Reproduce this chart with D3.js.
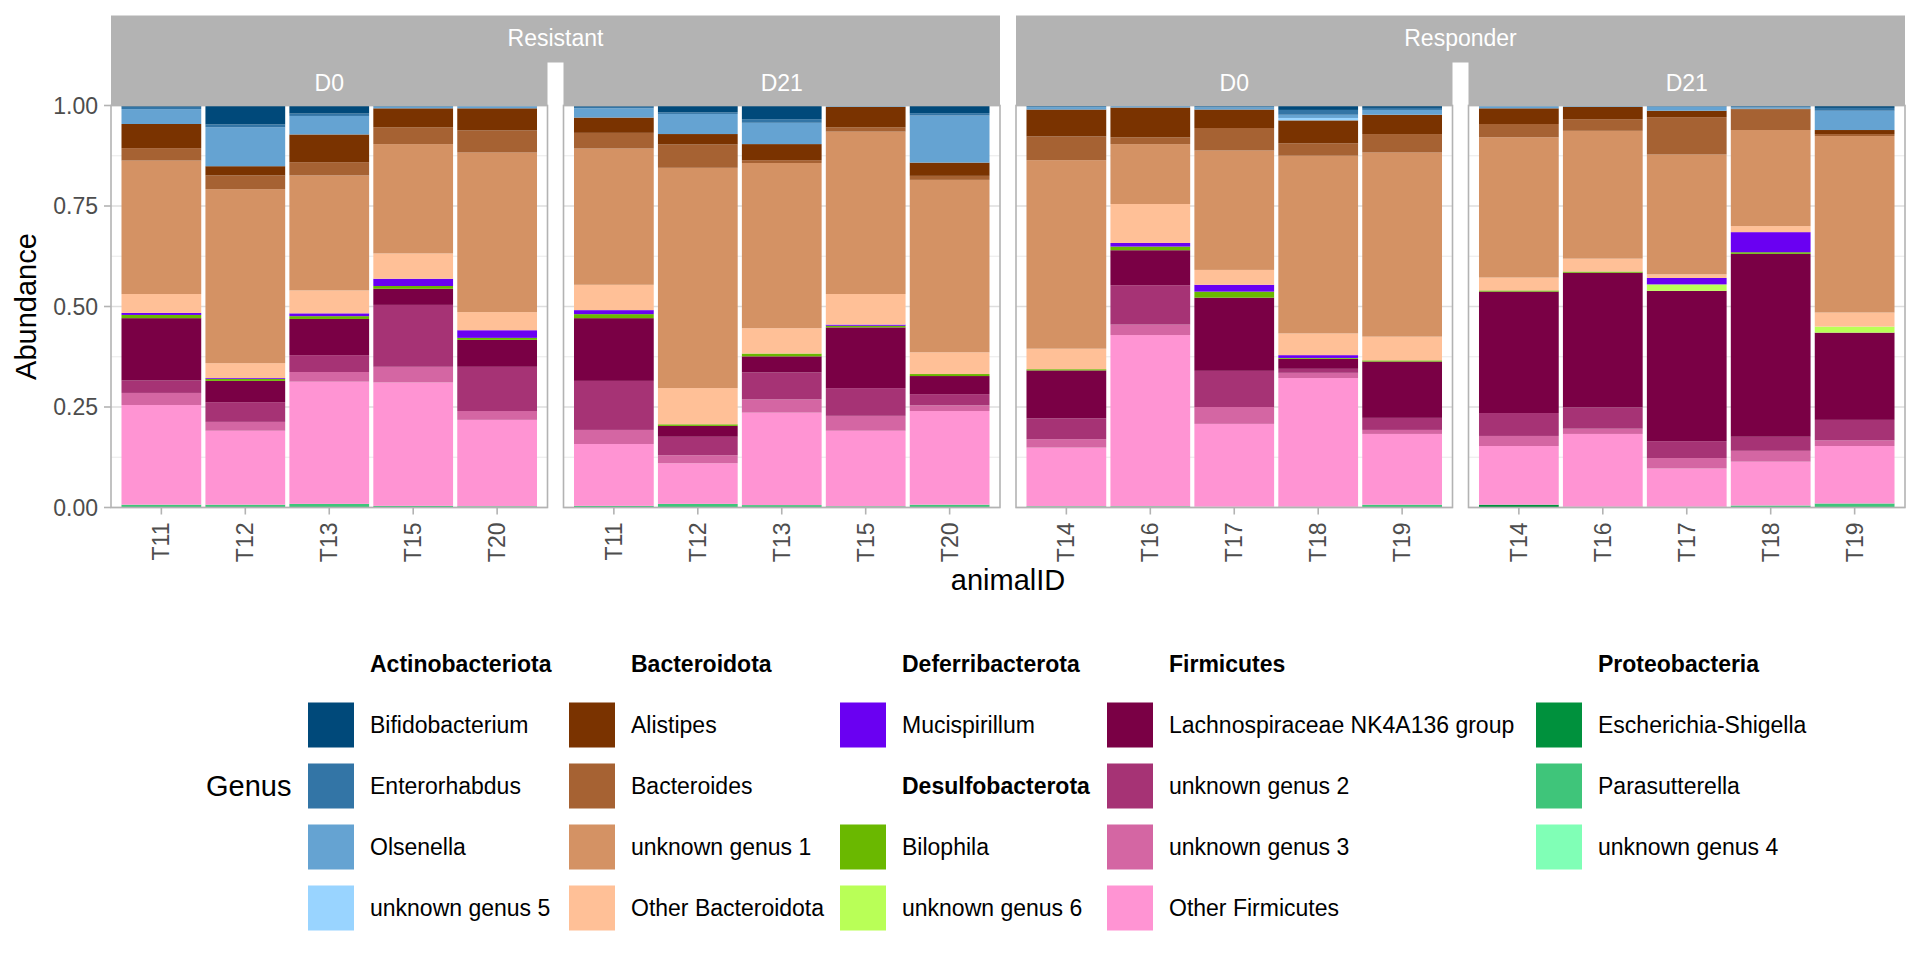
<!DOCTYPE html>
<html>
<head>
<meta charset="UTF-8">
<title>Abundance</title>
<script src="https://cdn.jsdelivr.net/npm/d3@7"></script>
<style>
body { margin: 0; background: #fff; }
svg text { font-family: "Liberation Sans", Arial, Helvetica, sans-serif; }
</style>
</head>
<body>
<div id="chart"></div>
<script>
// genus order = legend order (first one sits on top of each bar)
var genera = ["Bifidobacterium", "Enterorhabdus", "Olsenella", "unknown genus 5",
  "Alistipes", "Bacteroides", "unknown genus 1", "Other Bacteroidota",
  "Mucispirillum", "Bilophila", "unknown genus 6",
  "Lachnospiraceae NK4A136 group", "unknown genus 2", "unknown genus 3", "Other Firmicutes",
  "Escherichia-Shigella", "Parasutterella", "unknown genus 4"];
var genusColors = ["#00497a", "#3375a6", "#65a3d2", "#99d4ff",
  "#7a3300", "#a66233", "#d49264", "#ffc097",
  "#6a00f2", "#6ab800", "#b9ff57",
  "#7a0045", "#a63375", "#d466a3", "#ff94d3",
  "#00913d", "#3fc57a", "#80ffb6"];
var genusPhylum = ["Actinobacteriota", "Actinobacteriota", "Actinobacteriota", "Actinobacteriota",
  "Bacteroidota", "Bacteroidota", "Bacteroidota", "Bacteroidota",
  "Deferribacterota", "Desulfobacterota", "Desulfobacterota",
  "Firmicutes", "Firmicutes", "Firmicutes", "Firmicutes",
  "Proteobacteria", "Proteobacteria", "Proteobacteria"];
var legendColumns = [["Actinobacteriota"], ["Bacteroidota"], ["Deferribacterota", "Desulfobacterota"],
  ["Firmicutes"], ["Proteobacteria"]];

var groups = ["Resistant", "Responder"];
var days = ["D0", "D21"];
var resistantIDs = ["T11", "T12", "T13", "T15", "T20"];
var responderIDs = ["T14", "T16", "T17", "T18", "T19"];

// one row per bar (Resistant D0, Resistant D21, Responder D0, Responder D21), columns follow genera
var abundance = [
  [.003, .006, .037, 0, .060, .031, .332, .047, .005, .008, 0, .155, .031, .030, .248, 0, .007, 0],
  [.047, .007, .097, 0, .023, .034, .433, .037, .002, .005, 0, .053, .049, .022, .184, 0, .007, 0],
  [.020, .006, .046, 0, .069, .033, .286, .057, .007, .007, 0, .090, .042, .024, .304, 0, .009, 0],
  [0, .003, .004, 0, .047, .042, .272, .063, .018, .007, 0, .040, .154, .039, .307, 0, .004, 0],
  [0, .002, .005, 0, .055, .055, .397, .045, .019, .005, 0, .067, .110, .022, .215, 0, .003, 0],
  [.003, .004, .023, 0, .038, .039, .339, .063, .010, .010, 0, .156, .122, .035, .154, 0, .004, 0],
  [.017, .004, .050, 0, .026, .058, .548, .090, 0, .004, 0, .027, .046, .020, .101, 0, .009, 0],
  [.034, .009, .053, 0, .040, .007, .411, .063, 0, .007, 0, .040, .067, .033, .230, 0, .006, 0],
  [0, 0, .003, 0, .051, .011, .404, .076, .003, .004, 0, .151, .069, .037, .188, 0, .003, 0],
  [.019, .006, .117, 0, .033, .010, .429, .054, 0, .005, 0, .045, .028, .014, .233, 0, .007, 0],
  [0, .004, .006, 0, .067, .059, .469, .051, 0, .003, 0, .119, .052, .021, .146, 0, .003, 0],
  [0, 0, .005, 0, .074, .017, .149, .097, .009, .009, 0, .087, .098, .026, .426, 0, .003, 0],
  [0, .005, .005, 0, .046, .056, .297, .037, .017, .015, 0, .182, .090, .042, .206, 0, 0, .002],
  [.011, .012, .008, .006, .057, .031, .442, .054, .007, .002, 0, .025, .010, .013, .320, 0, .002, 0],
  [.006, .005, .012, 0, .048, .046, .458, .059, 0, .003, 0, .140, .030, .010, .176, 0, .007, 0],
  [0, .002, .005, 0, .039, .033, .349, .032, 0, .003, 0, .302, .057, .025, .146, .007, 0, 0],
  [0, 0, .003, 0, .031, .029, .318, .032, 0, .003, 0, .335, .053, .013, .181, 0, .002, 0],
  [0, .003, .010, 0, .016, .093, .298, .009, .016, 0, .016, .374, .042, .026, .095, 0, .002, 0],
  [0, .005, .003, 0, .002, .051, .239, .015, .050, .004, 0, .455, .035, .027, .109, 0, .005, 0],
  [.006, .007, .048, 0, .010, .005, .439, .035, 0, 0, .015, .217, .051, .014, .143, 0, .010, 0]
];
var yTicks = [0, 0.25, 0.5, 0.75, 1];
var yMinor = [0.125, 0.375, 0.625, 0.875];

var width = 1920, height = 960;
var plotLeft = 111, panelW = 436.5, panelGap = 16;
var panelTop = 105.5, panelBottom = 507.5;
var stripH = 45;

var svg = d3.select("#chart").append("svg")
  .attr("width", width)
  .attr("height", height);

var y = d3.scaleLinear().domain([0, 1]).range([panelBottom, panelTop]);
var color = d3.scaleOrdinal().domain(genera).range(genusColors);

// facets and stacked rows
var facets = [];
groups.forEach(function (g) {
  days.forEach(function (d) {
    facets.push({ group: g, day: d, ids: g == "Resistant" ? resistantIDs : responderIDs });
  });
});

var stack = d3.stack().keys(genera.slice().reverse());

// outer strips first, inner strips drawn over their lower edge
groups.forEach(function (g, gi) {
  var sx = plotLeft + gi * 2 * (panelW + panelGap);
  var sw = 2 * panelW + panelGap;
  svg.append("rect")
    .attr("x", sx).attr("y", panelTop - 2 * stripH)
    .attr("width", sw).attr("height", stripH + 2)
    .attr("fill", "#b3b3b3");
  svg.append("text")
    .attr("x", sx + sw / 2).attr("y", panelTop - 1.5 * stripH)
    .attr("dy", "0.35em")
    .attr("text-anchor", "middle")
    .attr("font-size", 23)
    .attr("fill", "#fff")
    .text(g);
});

facets.forEach(function (f, fi) {
  var x0 = plotLeft + fi * (panelW + panelGap);
  var rows = f.ids.map(function (id, i) {
    var row = { id: id };
    genera.forEach(function (gname, gi) { row[gname] = abundance[fi * 5 + i][gi]; });
    return row;
  });

  var x = d3.scaleBand().domain(f.ids).range([0, panelW])
    .paddingInner(0.05).paddingOuter(0.125);

  var panel = svg.append("g").attr("transform", "translate(" + x0 + ",0)");

  panel.append("rect")
    .attr("x", 0).attr("y", panelTop)
    .attr("width", panelW).attr("height", panelBottom - panelTop)
    .attr("fill", "#fff");

  panel.selectAll(".minor").data(yMinor).enter().append("line")
    .attr("x1", 0).attr("x2", panelW)
    .attr("y1", function (d) { return y(d); }).attr("y2", function (d) { return y(d); })
    .attr("stroke", "#e6e6e6").attr("stroke-width", 0.9);

  panel.selectAll(".major").data(yTicks).enter().append("line")
    .attr("x1", 0).attr("x2", panelW)
    .attr("y1", function (d) { return y(d); }).attr("y2", function (d) { return y(d); })
    .attr("stroke", "#dedede").attr("stroke-width", 1.6);

  var layers = panel.selectAll(".layer").data(stack(rows)).enter().append("g")
    .attr("fill", function (d) { return color(d.key); });

  layers.selectAll("rect").data(function (d) { return d; }).enter().append("rect")
    .attr("x", function (d) { return x(d.data.id); })
    .attr("width", x.bandwidth())
    .attr("y", function (d) { return y(d[1]); })
    .attr("height", function (d) { return Math.max(0, y(d[0]) - y(d[1])); });

  panel.append("rect")
    .attr("x", 0).attr("y", panelTop)
    .attr("width", panelW).attr("height", panelBottom - panelTop)
    .attr("fill", "none").attr("stroke", "#b3b3b3").attr("stroke-width", 1.6);

  // x axis
  var ticks = panel.selectAll(".xt").data(f.ids).enter().append("g")
    .attr("transform", function (d) { return "translate(" + (x(d) + x.bandwidth() / 2) + "," + panelBottom + ")"; });
  ticks.append("line").attr("y1", 0).attr("y2", 7).attr("stroke", "#b3b3b3").attr("stroke-width", 1.6);
  ticks.append("text")
    .attr("transform", "translate(0,15) rotate(-90)")
    .attr("text-anchor", "end")
    .attr("dy", "0.35em")
    .attr("font-size", 23)
    .attr("fill", "#4d4d4d")
    .text(function (d) { return d; });

  // inner strip
  panel.append("rect")
    .attr("x", 0).attr("y", panelTop - stripH)
    .attr("width", panelW).attr("height", stripH)
    .attr("fill", "#b3b3b3");
  panel.append("text")
    .attr("x", panelW / 2).attr("y", panelTop - stripH / 2)
    .attr("dy", "0.35em")
    .attr("text-anchor", "middle")
    .attr("font-size", 23)
    .attr("fill", "#fff")
    .text(f.day);

  // y axis only on the first panel
  if (fi == 0) {
    var yt = panel.selectAll(".yt").data(yTicks).enter().append("g")
      .attr("transform", function (d) { return "translate(0," + y(d) + ")"; });
    yt.append("line").attr("x1", -7).attr("x2", 0).attr("stroke", "#b3b3b3").attr("stroke-width", 1.6);
    yt.append("text")
      .attr("x", -13)
      .attr("dy", "0.35em")
      .attr("text-anchor", "end")
      .attr("font-size", 23)
      .attr("fill", "#4d4d4d")
      .text(function (d) { return d3.format(".2f")(d); });
  }
});

// axis titles
svg.append("text")
  .attr("transform", "translate(36," + ((panelTop + panelBottom) / 2) + ") rotate(-90)")
  .attr("text-anchor", "middle")
  .attr("font-size", 29)
  .attr("fill", "#000")
  .text("Abundance");

svg.append("text")
  .attr("x", plotLeft + (4 * panelW + 3 * panelGap) / 2)
  .attr("y", 590)
  .attr("text-anchor", "middle")
  .attr("font-size", 29)
  .attr("fill", "#000")
  .text("animalID");

// legend
var legendKeyX = [308, 569, 840, 1107, 1536];
var slotY0 = 664, slotStep = 61, keyW = 46, keyH = 45;
var legend = svg.append("g");

legend.append("text")
  .attr("x", 206).attr("y", slotY0 + 2 * slotStep)
  .attr("dy", "0.35em")
  .attr("font-size", 29)
  .attr("fill", "#000")
  .text("Genus");

legendColumns.forEach(function (col, ci) {
  var items = [];
  col.forEach(function (ph) {
    items.push({ header: true, label: ph });
    genera.forEach(function (gname, gi) {
      if (genusPhylum[gi] == ph) items.push({ header: false, label: gname });
    });
  });
  items.forEach(function (it, k) {
    var cy = slotY0 + k * slotStep;
    if (!it.header) {
      legend.append("rect")
        .attr("x", legendKeyX[ci]).attr("y", cy - keyH / 2)
        .attr("width", keyW).attr("height", keyH)
        .attr("fill", color(it.label));
    }
    legend.append("text")
      .attr("x", legendKeyX[ci] + 62).attr("y", cy)
      .attr("dy", "0.35em")
      .attr("font-size", 23)
      .attr("font-weight", it.header ? "bold" : "normal")
      .attr("fill", "#000")
      .text(it.label);
  });
});
</script>
</body>
</html>
